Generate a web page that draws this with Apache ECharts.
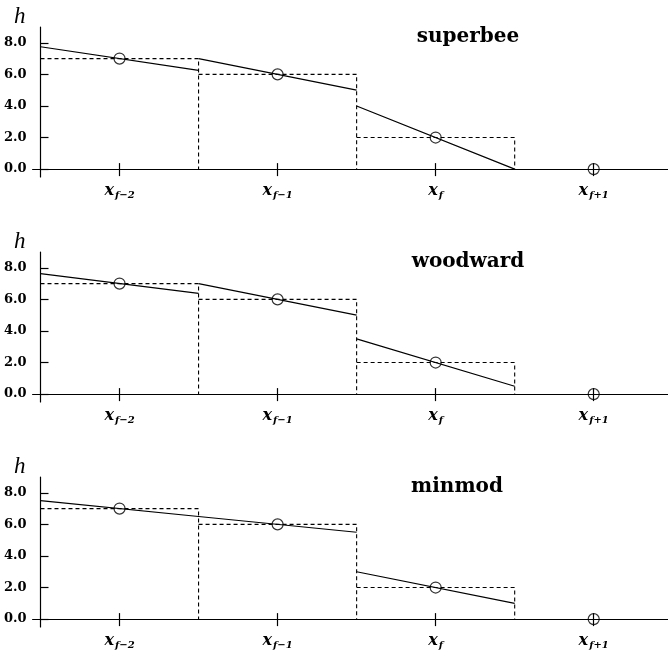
<!DOCTYPE html>
<html>
<head>
<meta charset="utf-8">
<script src="https://cdn.jsdelivr.net/npm/echarts@6/dist/echarts.min.js"></script>
<style>
  html, body { margin: 0; padding: 0; background: #fff; }
  #chart { width: 668px; height: 650px; }
</style>
</head>
<body>
<div id="chart"></div>
<script>
// cell centres sit at i + 0.5, cell faces at integers
const subscripts = ['f\u22122', 'f\u22121', 'f', 'f+1']
const cellAvg = [7, 6, 2, 0]
const yTicks = [0, 2, 4, 6, 8]
const limiters = ['superbee', 'woodward', 'minmod']

// reconstructed value at left / right face of cells f-2, f-1, f
const superbeeL = [7.75, 7.0, 4.0]
const superbeeR = [6.25, 5.0, 0.0]
const woodwardL = [7.625, 7.0, 3.5]
const woodwardR = [6.375, 5.0, 0.5]
const minmodL = [7.5, 6.5, 3.0]
const minmodR = [6.5, 5.5, 1.0]

const faces = [[superbeeL, superbeeR], [woodwardL, woodwardR], [minmodL, minmodR]]
const titleX = [468, 468, 457]

const SERIF = 'DejaVu Serif'
const PANEL_TOP = 27
const PANEL_STEP = 225
const PANEL_H = 150
const X_TICKS = [0.5, 1.5, 2.5, 3.5]

// dashed cell averages: top edge + right face down to zero
function stepData() {
  const d = []
  cellAvg.slice(0, 3).forEach((h, i) => {
    d.push([i, h], [i + 1, h], [i + 1, 0], '-')
  })
  return d
}

function slopeData(L, R) {
  const d = []
  L.forEach((l, i) => d.push([i, l], [i + 1, R[i]], '-'))
  return d
}

const grid = [], xAxis = [], yAxis = [], series = [], title = []

limiters.forEach((name, p) => {
  grid.push({ left: 32.6, right: 0, top: PANEL_TOP + PANEL_STEP * p, height: PANEL_H, outerBoundsMode: 'none', containLabel: false })

  const xBase = {
    type: 'value',
    gridIndex: p,
    min: -0.05,
    max: 3.97,
    splitLine: { show: false },
  }
  // main axis: line, downward ticks, labels
  xAxis.push({
    ...xBase,
    position: 'bottom',
    axisLine: { onZero: true, onZeroAxisIndex: p, lineStyle: { color: '#000', width: 1.2 } },
    axisTick: { show: true, length: 7, lineStyle: { color: '#000', width: 1.2 }, customValues: X_TICKS },
    axisLabel: {
      margin: 5,
      customValues: X_TICKS,
      formatter: (v) => '{x|x}{s|' + subscripts[Math.round(v - 0.5)] + '}',
      rich: {
        x: { fontFamily: SERIF, fontStyle: 'italic', fontWeight: 'bold', fontSize: 16, color: '#000' },
        s: { fontFamily: SERIF, fontStyle: 'italic', fontWeight: 'bold', fontSize: 10, color: '#000', padding: [8, 0, 0, 1] },
      },
    },
  })
  // twin axis only for the upward half of the crossing ticks
  xAxis.push({
    ...xBase,
    position: 'top',
    axisLine: { show: false, onZero: true, onZeroAxisIndex: p },
    axisTick: { show: true, length: 6, lineStyle: { color: '#000', width: 1.2 }, customValues: X_TICKS },
    axisLabel: { show: false },
  })

  yAxis.push({
    type: 'value',
    gridIndex: p,
    min: -0.5,
    max: 9,
    name: 'h',
    nameLocation: 'end',
    nameGap: -1,
    nameTextStyle: { fontFamily: 'Liberation Serif', fontStyle: 'italic', fontSize: 23, color: '#000', align: 'right', padding: [0, 15, 0, 0] },
    splitLine: { show: false },
    axisLine: { onZero: true, lineStyle: { color: '#000', width: 1.2 } },
    axisTick: { show: true, inside: true, length: 8, lineStyle: { color: '#000', width: 1.2 }, customValues: yTicks },
    axisLabel: {
      customValues: yTicks,
      margin: 6,
      formatter: (v) => v.toFixed(1),
      fontFamily: SERIF,
      fontWeight: 'bold',
      fontSize: 13,
      color: '#000',
    },
  })

  title.push({
    text: name,
    left: titleX[p],
    top: PANEL_TOP + PANEL_STEP * p,
    textAlign: 'center',
    padding: 0,
    textStyle: { fontFamily: SERIF, fontWeight: 'bold', fontSize: 20, color: '#000' },
  })

  series.push(
    {
      type: 'line',
      xAxisIndex: 2 * p,
      yAxisIndex: p,
      data: stepData(),
      symbol: 'none',
      connectNulls: false,
      silent: true,
      lineStyle: { color: '#000', width: 1.1, type: [4, 3] },
    },
    {
      type: 'line',
      xAxisIndex: 2 * p,
      yAxisIndex: p,
      data: slopeData(faces[p][0], faces[p][1]),
      symbol: 'none',
      connectNulls: false,
      silent: true,
      lineStyle: { color: '#000', width: 1.2 },
    },
    {
      type: 'scatter',
      xAxisIndex: 2 * p,
      yAxisIndex: p,
      data: cellAvg.map((h, i) => [i + 0.5, h]),
      symbol: 'circle',
      symbolSize: 11,
      silent: true,
      z: 5,
      itemStyle: { color: 'rgba(0,0,0,0)', borderColor: '#000', borderWidth: 1.2 },
    },
  )
})

const chart = echarts.init(document.getElementById('chart'), null, { renderer: 'canvas' })
chart.setOption({
  animation: false,
  backgroundColor: '#fff',
  title,
  grid,
  xAxis,
  yAxis,
  series,
})
</script>
</body>
</html>
